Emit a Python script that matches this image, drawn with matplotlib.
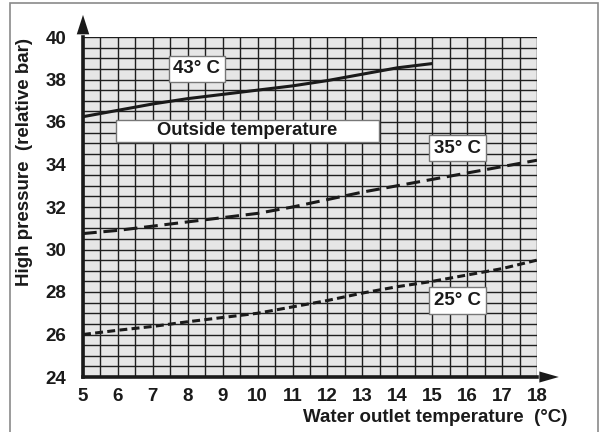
import matplotlib.pyplot as plt
from matplotlib.patches import Rectangle
from matplotlib.ticker import MultipleLocator

plt.rcParams['font.family'] = ['Liberation Sans', 'DejaVu Sans']
plt.rcParams['font.weight'] = 'bold'

# water outlet temperature (C)
x_43 = [5, 6, 7, 8, 9, 10, 11, 12, 13, 14, 15]
p_43 = [36.25, 36.55, 36.85, 37.1, 37.3, 37.5, 37.7, 37.95, 38.25, 38.55, 38.75]

x_35 = [5, 6, 7, 8, 9, 10, 11, 12, 13, 14, 15, 16, 17, 18]
p_35 = [30.75, 30.9, 31.1, 31.3, 31.5, 31.7, 32.0, 32.35, 32.7, 33.0, 33.3, 33.6, 33.9, 34.2]

x_25 = [5, 6, 7, 8, 9, 10, 11, 12, 13, 14, 15, 16, 17, 18]
p_25 = [26.0, 26.2, 26.38, 26.6, 26.8, 27.0, 27.3, 27.6, 27.95, 28.25, 28.5, 28.8, 29.1, 29.5]

x_ticks = list(range(5, 19))
y_ticks = list(range(24, 41, 2))

ink = '#1a1a1a'

fig = plt.figure(figsize=(6.07, 4.32), dpi=100)
ax = fig.add_axes([83/607, 1 - 377/432, (537-83)/607, (377-37)/432])

ax.set_facecolor('#e6e6e6')
ax.set_xlim(5, 18)
ax.set_ylim(24, 40)

# fine grid every 0.5
ax.xaxis.set_minor_locator(MultipleLocator(0.5))
ax.yaxis.set_minor_locator(MultipleLocator(0.5))
ax.grid(which='both', color='#1e1e1e', linewidth=1.0)
ax.set_axisbelow(True)

ax.set_xticks(x_ticks)
ax.set_yticks(y_ticks)
ax.tick_params(which='minor', length=0)
ax.tick_params(which='major', length=0, width=1.2, color=ink, labelsize=13.5,
               labelcolor=ink)
ax.tick_params(axis='x', pad=8)
ax.tick_params(axis='y', pad=12)
for t in ax.xaxis.get_major_ticks():
    if t.get_loc() in (10, 15):
        t.tick1line.set_markersize(6)
for t in ax.yaxis.get_major_ticks():
    if t.get_loc() == 30:
        t.tick1line.set_markersize(6)

for s in ['top', 'right']:
    ax.spines[s].set_visible(False)
for s in ['left', 'bottom']:
    ax.spines[s].set_linewidth(2.6)
    ax.spines[s].set_color(ink)

# axis arrows
ax.annotate('', xy=(0, 1.065), xycoords='axes fraction', xytext=(0, 0.99),
            arrowprops=dict(arrowstyle='-|>,head_length=1.4,head_width=0.45',
                            color=ink, lw=0, shrinkA=0, shrinkB=0), annotation_clip=False)
ax.annotate('', xy=(1.048, 0), xycoords='axes fraction', xytext=(0.99, 0),
            arrowprops=dict(arrowstyle='-|>,head_length=1.4,head_width=0.4',
                            color=ink, lw=0, shrinkA=0, shrinkB=0), annotation_clip=False)

# curves
ax.plot(x_43, p_43, color=ink, lw=2.2, solid_capstyle='butt', zorder=3)
ax.plot(x_35, p_35, color=ink, lw=2.2, dashes=(4.5, 2.2), zorder=3)
ax.plot(x_25, p_25, color=ink, lw=2.2, dashes=(2.6, 1.4), zorder=3)

box = dict(boxstyle='square,pad=0.25', fc='white', ec='#777777', lw=1)
ax.text(8.26, 38.5, '43° C', ha='center', va='center', fontsize=13.5,
        color=ink, bbox=box, zorder=4)
ax.text(15.72, 34.77, '35° C', ha='center', va='center', fontsize=13.5,
        color=ink, bbox=box, zorder=4)
ax.text(15.72, 27.6, '25° C', ha='center', va='center', fontsize=13.5,
        color=ink, bbox=box, zorder=4)

ax.add_patch(Rectangle((5.95, 35.07), 7.53, 1.04, fc='white', ec='#777777',
                       lw=1, zorder=4))
ax.text(9.71, 35.59, 'Outside temperature', ha='center', va='center',
        fontsize=13.3, color=ink, zorder=5)

fig.text(25/607, 1 - 162/432, 'High pressure  (relative bar)', rotation=90,
         ha='center', va='center', fontsize=13.5, color=ink)
fig.text(435/607, 1 - 417/432, 'Water outlet temperature  (°C)',
         ha='center', va='center', fontsize=13.5, color=ink)

# outer frame
fig.patches.append(Rectangle((10/607, -0.01), 588/607, 1 - 3/432 + 0.01,
                             transform=fig.transFigure, fill=False,
                             ec='#8a8a8a', lw=1.2))

fig.savefig('out.png', dpi=100)
